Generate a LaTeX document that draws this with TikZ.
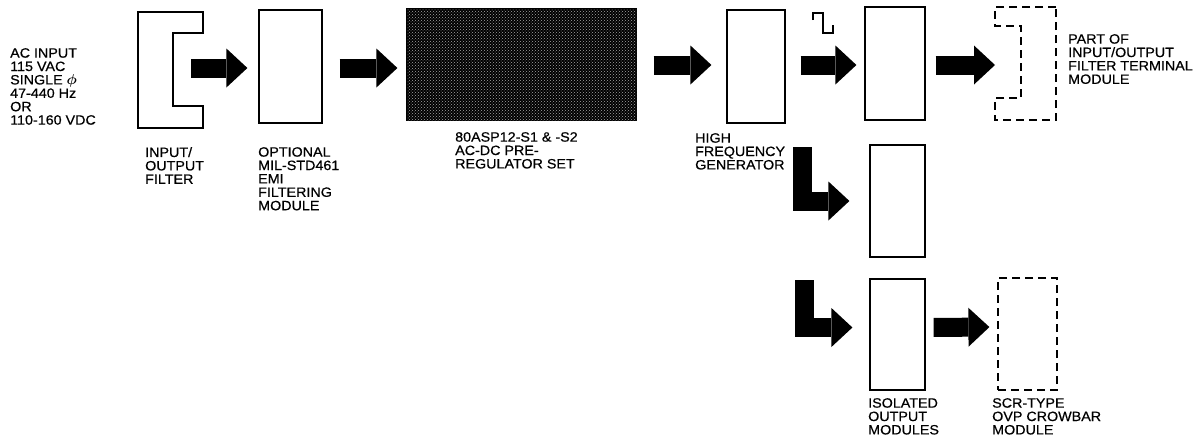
\documentclass[tikz,border=0pt]{standalone}
\usepackage{fontspec}
\setmainfont{Liberation Sans}[FakeStretch=1.06, FakeBold=0.5]
\usetikzlibrary{arrows.meta,patterns}
\begin{document}
\begin{tikzpicture}[x=1pt, y=-1pt, line join=miter,
    module/.style={draw, line width=1.2pt, inner sep=0pt},
    optmod/.style={module, dash pattern=on 8pt off 5pt},
    fatarrow/.style={line width=19pt, -{Triangle[length=21pt, width=39pt, line width=0pt]}},
    lbl/.style={anchor=north west, align=left, inner sep=0pt, font=\fontsize{13.5}{13.4}\selectfont}]
  \useasboundingbox (0,0) rectangle (1197,439);
  % modules
  \draw[line width=1.2pt] (138,12) -- (203,12) -- (203,33) -- (173,33) -- (173,106) -- (203,106) -- (203,128) -- (138,128) -- cycle;
  \coordinate (filt) at (173,68);
  \node[module, minimum width=63pt, minimum height=113pt] (emi) at (290.5,66.5) {};
  \node[module, fill=black, minimum width=229pt, minimum height=111pt,
        postaction={pattern=crosshatch dots, pattern color=black!35}] (preg) at (521.5,64.5) {};
  \node[module, minimum width=58pt, minimum height=113pt] (hfg) at (756,66.5) {};
  \node[module, minimum width=60pt, minimum height=113pt] (modA) at (895,63.5) {};
  \node[module, minimum width=55pt, minimum height=112pt] (modB) at (897.5,201) {};
  \node[module, minimum width=55pt, minimum height=111pt] (modC) at (897.5,334.5) {};
  \node[optmod, minimum width=59pt, minimum height=112pt] (crow) at (1027.5,334) {};
  \draw[line width=1.2pt, dash pattern=on 8pt off 5pt] (1056,7) -- (995,7) -- (995,26) -- (1021,26) -- (1021,98) -- (995,98) -- (995,120) -- (1056,120) -- cycle;
  \coordinate (term) at (995,65);
  % square wave
  \draw[line width=1.4pt] (813,20) -- (813,13) -- (823,13) -- (823,33) -- (833,33) -- (833,25);
  % power flow
  \draw[fatarrow, shorten <=18pt, shorten >=11pt] (filt) -- (emi.west |- filt);
  \draw[fatarrow, shorten <=17pt, shorten >=9pt] (emi.east |- filt) -- (preg.west |- filt);
  \draw[fatarrow, shorten <=17pt, shorten >=15pt] (preg.east |- term) -- (hfg.west |- term);
  \draw[fatarrow, shorten <=15pt, shorten >=8pt] (hfg.east |- term) -- (modA.west |- term);
  \draw[fatarrow, shorten <=10pt] (modA.east |- term) -- (term);
  \coordinate (tapB) at (802,147);
  \coordinate (tapC) at (804,280);
  \draw[fatarrow, shorten >=20pt] (tapB) |- (modB.west);
  \draw[fatarrow, shorten >=17pt] (tapC) |- ([yshift=7pt]modC.west);
  \draw[fatarrow, shorten <=8pt, shorten >=8pt] ([yshift=7pt]modC.east) -- ([yshift=7pt]crow.west);
  % labels
  \node[lbl] (acin) at (10,48) {AC INPUT\\115 VAC\\SINGLE {\boldmath$\phi$}\\47-440 Hz\\OR\\110-160 VDC};
  \node[lbl] (filtlbl) at (145,147) {INPUT/\\OUTPUT\\FILTER};
  \node[lbl] (emilbl) at (258,147) {OPTIONAL\\MIL-STD461\\EMI\\FILTERING\\MODULE};
  \node[lbl] (preglbl) at (455,132) {80ASP12-S1 \& -S2\\AC-DC PRE-\\REGULATOR SET};
  \node[lbl] (hfglbl) at (695,133) {HIGH\\FREQUENCY\\GENERATOR};
  \node[lbl] (termlbl) at (1068,34) {PART OF\\INPUT/OUTPUT\\FILTER TERMINAL\\MODULE};
  \node[lbl] (modlbl) at (868,398) {ISOLATED\\OUTPUT\\MODULES};
  \node[lbl] (crowlbl) at (992,398) {SCR-TYPE\\OVP CROWBAR\\MODULE};
\end{tikzpicture}
\end{document}
